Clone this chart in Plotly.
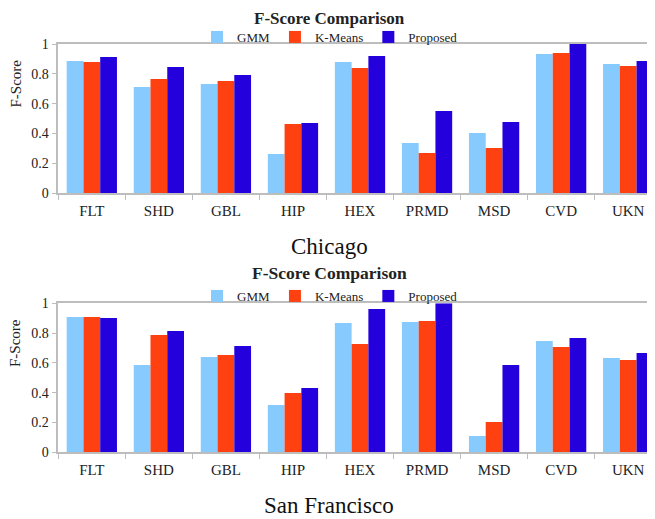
import plotly.graph_objects as go

categories = ["FLT", "SHD", "GBL", "HIP", "HEX", "PRMD", "MSD", "CVD", "UKN"]
series_names = ["GMM", "K-Means", "Proposed"]

chicago_gmm = [0.886, 0.711, 0.732, 0.262, 0.879, 0.336, 0.403, 0.933, 0.866]
chicago_kmeans = [0.879, 0.765, 0.752, 0.463, 0.839, 0.268, 0.302, 0.940, 0.852]
chicago_proposed = [0.913, 0.846, 0.792, 0.470, 0.919, 0.550, 0.477, 1.000, 0.886]

sf_gmm = [0.908, 0.586, 0.640, 0.318, 0.868, 0.875, 0.110, 0.747, 0.633]
sf_kmeans = [0.908, 0.787, 0.653, 0.398, 0.727, 0.881, 0.204, 0.707, 0.620]
sf_proposed = [0.902, 0.814, 0.714, 0.432, 0.962, 1.000, 0.586, 0.767, 0.667]

y_tick_values = [0, 0.2, 0.4, 0.6, 0.8, 1]
y_tick_labels = ["0", "0.2", "0.4", "0.6", "0.8", "1"]

chart_title = "F-Score Comparison"
y_title = "F-Score"
city_labels = ["Chicago", "San Francisco"]

colors = ["#86CAFE", "#FF4111", "#2400DC"]

# The page body adds an 8px margin, so the figure is sized to fit the 655x519 window.
OFF = 8
W, H = 655 - OFF, 519 - OFF
SERIF = "Liberation Serif, Times New Roman, serif"
AXIS_GREY = "#BDBDBD"
TEXT = "#222222"

fig = go.Figure()

top_series = [chicago_gmm, chicago_kmeans, chicago_proposed]
bot_series = [sf_gmm, sf_kmeans, sf_proposed]

for name, vals, col in zip(series_names, top_series, colors):
    fig.add_trace(go.Bar(x=categories, y=vals, name=name, marker=dict(color=col, line=dict(width=0)),
                         xaxis="x", yaxis="y", legend="legend"))
for name, vals, col in zip(series_names, bot_series, colors):
    fig.add_trace(go.Bar(x=categories, y=vals, name=name, marker=dict(color=col, line=dict(width=0)),
                         xaxis="x2", yaxis="y2", legend="legend2"))


def px_x(x):
    return (x - OFF) / W


def px_y(y):
    return 1 - (y - OFF) / H


x_dom = [px_x(58.3), 1.0]
x_common = dict(
    type="category", range=[-0.5, 8.4], showline=True, linecolor=AXIS_GREY, linewidth=1.5,
    mirror=True, ticks="outside", tickson="boundaries", ticklen=5, tickcolor=AXIS_GREY,
    tickwidth=1, showgrid=False, zeroline=False, fixedrange=True, automargin=False,
    tickfont=dict(family=SERIF, size=15, color=TEXT), ticklabelstandoff=3,
)
y_common = dict(
    range=[0, 1], tickvals=y_tick_values, ticktext=y_tick_labels, showline=True,
    linecolor=AXIS_GREY, linewidth=1.5, ticks="outside", ticklen=5, tickcolor=AXIS_GREY,
    showgrid=False, zeroline=False, fixedrange=True, automargin=False,
    tickfont=dict(family=SERIF, size=14, color=TEXT),
)

legend_common = dict(orientation="h", x=px_x(330), xanchor="center", yanchor="middle",
                     font=dict(family=SERIF, size=13, color=TEXT), itemwidth=30,
                     bgcolor="rgba(0,0,0,0)", traceorder="normal")

fig.update_layout(
    width=W, height=H, margin=dict(l=0, r=0, t=0, b=0, autoexpand=False),
    paper_bgcolor="white", plot_bgcolor="white",
    barmode="group", bargap=0.25, bargroupgap=0,
    xaxis=dict(domain=x_dom, anchor="y", **x_common),
    yaxis=dict(domain=[px_y(193), px_y(44)], anchor="x", **y_common),
    xaxis2=dict(domain=x_dom, anchor="y2", **x_common),
    yaxis2=dict(domain=[px_y(452.3), px_y(303.3)], anchor="x2", **y_common),
    legend=dict(y=px_y(37), **legend_common),
    legend2=dict(y=px_y(296), **legend_common),
    showlegend=True,
)

# top chart title: anchored to the very top of the figure so it is not clipped
fig.add_annotation(text="<b>" + chart_title + "</b>", xref="paper", yref="paper",
                   x=px_x(329), y=1.0, xanchor="center", yanchor="top", showarrow=False,
                   borderpad=0, font=dict(family=SERIF, size=17, color=TEXT))
fig.add_annotation(text="<b>" + chart_title + "</b>", xref="paper", yref="paper",
                   x=px_x(329), y=px_y(273), xanchor="center", yanchor="middle", showarrow=False,
                   font=dict(family=SERIF, size=17.5, color=TEXT))

for ty in [83.5, 343]:
    fig.add_annotation(text=y_title, xref="paper", yref="paper", x=px_x(15), y=px_y(ty),
                       xanchor="center", yanchor="middle", textangle=-90, showarrow=False,
                       font=dict(family=SERIF, size=15, color=TEXT))

for label, ty in zip(city_labels, [246, 505]):
    fig.add_annotation(text=label, xref="paper", yref="paper", x=px_x(329), y=px_y(ty),
                       xanchor="center", yanchor="middle", showarrow=False,
                       font=dict(family=SERIF, size=23, color="#111111"))

fig.write_html("out.html")
